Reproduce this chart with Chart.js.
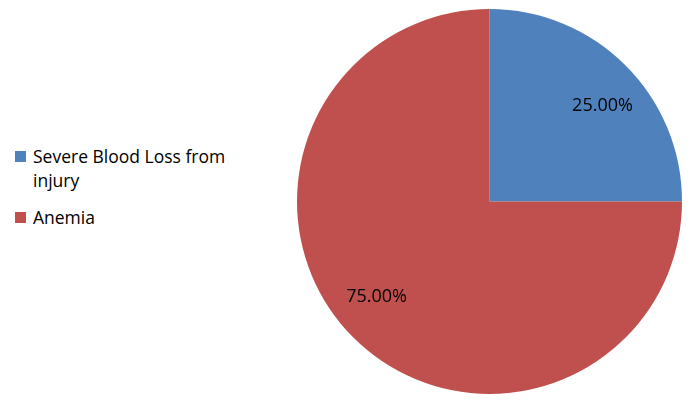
<!DOCTYPE html>
<html>
<head>
<meta charset="utf-8">
<script src="https://cdn.jsdelivr.net/npm/chart.js@4/dist/chart.umd.min.js"></script>
<style>
  body { margin: 0; background: #fff; width: 700px; height: 407px; position: relative; overflow: hidden; font-family: "Open Sans", sans-serif; }
  #pie-box { position: absolute; left: 297px; top: 9px; width: 385px; height: 385px; }
  #legend { position: absolute; left: 15px; top: 144px; width: 240px; font-size: 17.5px; color: #000; }
  .item { position: relative; padding-left: 18px; line-height: 24px; margin-bottom: 13px; }
  .swatch { position: absolute; left: 0; top: 7px; width: 11px; height: 11px; }
</style>
</head>
<body>
<div id="legend"></div>
<div id="pie-box"><canvas id="pie"></canvas></div>
<script>
  // Chart data
  const labels = ["Severe Blood Loss from injury", "Anemia"];
  const values = [25, 75];
  const colors = ["#4F81BD", "#C0504D"];

  // Build the legend on the left
  const legend = document.getElementById("legend");
  labels.forEach((label, i) => {
    legend.innerHTML += `<div class="item"><span class="swatch" style="background:${colors[i]}"></span>${label}</div>`;
  });

  // Percent labels inside the slices
  const sliceLabels = {
    id: "sliceLabels",
    afterDatasetsDraw(chart) {
      const ctx = chart.ctx;
      const total = values.reduce((a, b) => a + b, 0);
      ctx.save();
      ctx.font = "18px 'Open Sans', sans-serif";
      ctx.fillStyle = "#000";
      ctx.textAlign = "center";
      ctx.textBaseline = "middle";
      chart.getDatasetMeta(0).data.forEach((arc, i) => {
        const p = arc.getProps(["x", "y", "startAngle", "endAngle", "outerRadius"], true);
        const mid = (p.startAngle + p.endAngle) / 2;
        const text = (values[i] / total * 100).toFixed(2) + "%";
        ctx.fillText(text, p.x + Math.cos(mid) * p.outerRadius * 0.83, p.y + Math.sin(mid) * p.outerRadius * 0.70);
      });
      ctx.restore();
    }
  };

  new Chart(document.getElementById("pie"), {
    type: "pie",
    data: {
      labels: labels,
      datasets: [{
        data: values,
        backgroundColor: colors,
        borderWidth: 0
      }]
    },
    options: {
      responsive: true,
      maintainAspectRatio: false,
      animation: false,
      layout: { padding: 0 },
      plugins: {
        legend: { display: false },
        tooltip: { enabled: false }
      }
    },
    plugins: [sliceLabels]
  });
</script>
</body>
</html>
